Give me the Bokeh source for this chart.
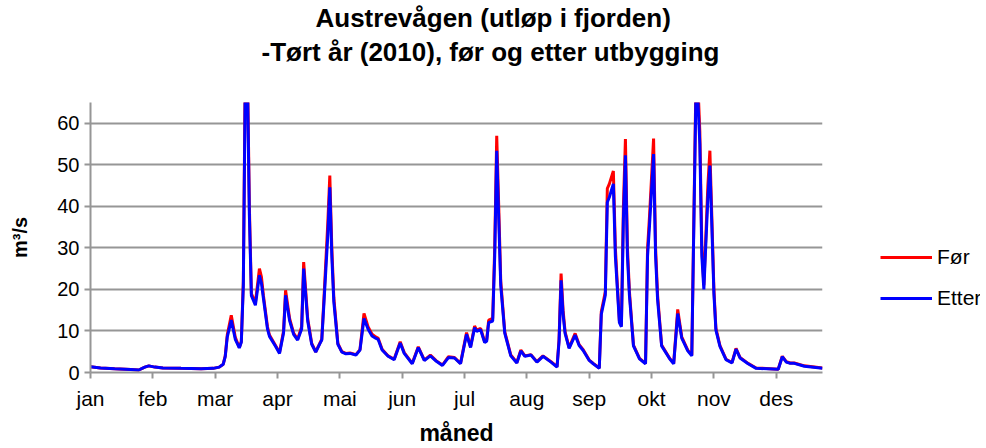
from bokeh.plotting import figure
from bokeh.models import FixedTicker, Title, Legend, LegendItem, Range1d
from bokeh.layouts import row
from bokeh.embed import file_html
from bokeh.resources import INLINE

month_labels = ["jan", "feb", "mar", "apr", "mai", "jun", "jul", "aug", "sep", "okt", "nov", "des"]
month_ticks = [0, 31, 62, 93, 124, 155, 186, 217, 248, 279, 310, 341]

days = [0, 5, 12, 20, 24, 27, 29, 32, 36, 45, 55, 61, 64, 66, 67, 68, 70, 72, 74, 75,
        76, 77, 78, 79, 80, 82, 84, 85, 86, 88, 89, 92, 94, 96, 97, 99, 101, 103, 105, 106,
        108, 110, 112, 114, 115, 116, 118, 119, 120, 121, 123, 125, 127, 129, 132, 134, 136, 138, 140, 142,
        143, 145, 148, 151, 154, 156, 160, 163, 166, 169, 172, 175, 178, 181, 184, 187, 189, 191, 192, 194,
        196, 197, 198, 200, 201, 202, 203, 204, 206, 209, 212, 214, 216, 219, 222, 225, 229, 232, 233, 234,
        235, 236, 238, 241, 243, 245, 248, 250, 253, 254, 256, 257, 258, 260, 261, 262, 263, 264, 265, 266,
        267, 268, 270, 273, 276, 277, 278, 280, 281, 282, 284, 288, 290, 292, 294, 297, 299, 301, 302, 303,
        304, 305, 307, 308, 309, 310, 311, 313, 316, 319, 321, 323, 327, 331, 342, 344, 346, 348, 350, 355,
        364]

for_vals = [1.4, 1.1, 0.9, 0.7, 0.6, 1.3, 1.6, 1.3, 1.1, 1.0, 0.9, 1.0, 1.3, 2.0, 4.0, 9.0, 13.8, 8.5, 6.0, 7.5,
            22, 75, 75, 40, 19, 16.8, 25, 23, 18.5, 11, 9, 6.5, 4.8, 10, 19.8, 13, 9.5, 8.0, 11, 26.6,
            13, 7, 5.0, 7.0, 8.0, 17, 36, 47.4, 30, 18, 7, 5.0, 4.6, 4.7, 4.3, 5.5, 14.2, 11, 9.2, 8.5,
            8.3, 5.6, 4.0, 3.2, 7.4, 4.8, 2.2, 6.2, 3.0, 4.2, 2.8, 1.8, 3.8, 3.6, 2.2, 9.6, 6.2, 11.2, 10.2, 10.6,
            7.4, 7.8, 12.6, 13, 30, 57, 40, 22, 9.8, 4.2, 2.4, 5.4, 4.0, 4.3, 2.6, 4.0, 2.6, 1.4, 8, 23.8,
            15, 9.8, 6.0, 9.4, 6.7, 5.5, 3.0, 2.2, 1.1, 14.6, 19.4, 44.3, 45.4, 48.5, 30, 21, 12.5, 11.4, 40, 56.2,
            30, 19.4, 6.6, 3.4, 2.2, 29.8, 37.8, 56.3, 30, 18.5, 6.6, 3.4, 2.2, 15.2, 8.6, 5.4, 4.2, 68, 70, 58,
            30, 21, 45, 53.4, 37, 20, 10.6, 6.5, 3.2, 2.4, 5.8, 3.6, 2.2, 1.1, 0.8, 3.9, 2.6, 2.3, 2.3, 1.6,
            1.1]

etter_vals = [1.4, 1.1, 0.9, 0.7, 0.6, 1.3, 1.6, 1.3, 1.1, 1.0, 0.9, 1.0, 1.3, 2.0, 3.8, 8.5, 12.6, 8.0, 5.9, 7.3,
              21, 72, 72, 38, 18.5, 16.2, 23.4, 21.5, 17.8, 10.5, 8.7, 6.3, 4.6, 9.5, 18.6, 12.5, 9.2, 7.8, 10.5, 25,
              12.4, 6.8, 4.9, 6.9, 7.8, 16, 33, 44.6, 28, 17, 6.8, 4.9, 4.5, 4.6, 4.2, 5.4, 13, 10.5, 8.8, 8.2,
              8.0, 5.4, 3.9, 3.1, 7.1, 4.6, 2.1, 6.0, 2.9, 4.0, 2.7, 1.7, 3.6, 3.5, 2.1, 9.2, 6.0, 10.8, 9.9, 10.3,
              7.2, 7.5, 12.0, 12.4, 28, 53.4, 37, 21, 9.5, 4.0, 2.3, 5.2, 3.9, 4.2, 2.5, 3.9, 2.5, 1.3, 7.5, 22.2,
              14, 9.4, 5.8, 9.0, 6.5, 5.3, 2.9, 2.1, 1.0, 14, 18.6, 41, 42.2, 45.4, 28, 20, 12, 11, 37, 52.3,
              28, 18.5, 6.4, 3.3, 2.1, 28, 35.5, 52.6, 28, 17.5, 6.4, 3.3, 2.1, 14.2, 8.3, 5.2, 4.0, 65.5, 66, 55,
              28, 20, 42, 49.8, 35, 19, 10.2, 6.3, 3.1, 2.3, 5.6, 3.5, 2.1, 1.0, 0.8, 3.8, 2.5, 2.2, 2.2, 1.5,
              1.0]

y_ticks = [0, 10, 20, 30, 40, 50, 60]
series_names = ["Før", "Etter"]
series_colors = ["#FF0000", "#0000FF"]

FONT = "Liberation Sans"
GRID = "#969696"

p = figure(width=830, height=448, output_backend="svg", toolbar_location=None,
           x_range=Range1d(0, 364), y_range=Range1d(0, 65),
           min_border_left=90, min_border_right=8, min_border_top=101, min_border_bottom=76)
p.outline_line_color = None
p.background_fill_color = "white"
p.border_fill_color = "white"

p.line(days, for_vals, line_color=series_colors[0], line_width=3)
p.line(days, etter_vals, line_color=series_colors[1], line_width=3)

# axes
p.xaxis.ticker = FixedTicker(ticks=month_ticks)
p.xaxis.major_label_overrides = {t: l for t, l in zip(month_ticks, month_labels)}
p.xaxis.minor_tick_line_color = None
p.xaxis.major_tick_in = 0
p.xaxis.major_tick_out = 6
p.xaxis.axis_line_color = GRID
p.xaxis.axis_line_width = 2
p.xaxis.major_tick_line_color = GRID
p.xaxis.major_tick_line_width = 2
p.xaxis.major_label_text_font = FONT
p.xaxis.major_label_text_font_size = "21px"
p.xaxis.major_label_text_color = "black"
p.xaxis.major_label_standoff = 8
p.xaxis.axis_label = "måned"
p.xaxis.axis_label_text_font = FONT
p.xaxis.axis_label_text_font_size = "23px"
p.xaxis.axis_label_text_font_style = "bold"
p.xaxis.axis_label_text_color = "black"
p.xaxis.axis_label_standoff = 7

p.yaxis.ticker = FixedTicker(ticks=y_ticks)
p.yaxis.minor_tick_line_color = None
p.yaxis.major_tick_in = 0
p.yaxis.major_tick_out = 6
p.yaxis.axis_line_color = GRID
p.yaxis.axis_line_width = 2
p.yaxis.major_tick_line_color = GRID
p.yaxis.major_tick_line_width = 2
p.yaxis.major_label_text_font = FONT
p.yaxis.major_label_text_font_size = "20px"
p.yaxis.major_label_text_color = "black"
p.yaxis.major_label_standoff = 5
p.yaxis.axis_label = "m³/s"
p.yaxis.axis_label_text_font = FONT
p.yaxis.axis_label_text_font_size = "20px"
p.yaxis.axis_label_text_font_style = "bold"
p.yaxis.axis_label_text_color = "black"
p.yaxis.axis_label_standoff = 23

p.xgrid.grid_line_color = None
p.ygrid.ticker = FixedTicker(ticks=[10, 20, 30, 40, 50, 60])
p.ygrid.grid_line_color = GRID
p.ygrid.grid_line_width = 2

# titles: spacer nearest the frame, then line 2, then line 1
spacer = Title(text=" ", text_font_size="13px", standoff=17, vertical_align="middle")
t2 = Title(text="-Tørt år (2010), før og etter utbygging", align="left", offset=171,
           vertical_align="middle", text_color="black",
           text_font=FONT, text_font_size="26px", text_font_style="bold", standoff=2)
t1 = Title(text="Austrevågen (utløp i fjorden)", align="left", offset=225,
           vertical_align="middle", text_color="black",
           text_font=FONT, text_font_size="26px", text_font_style="bold", standoff=2)
p.add_layout(spacer, "above")
p.add_layout(t2, "above")
p.add_layout(t1, "above")

# legend panel
q = figure(width=150, height=448, output_backend="svg", toolbar_location=None,
           x_range=Range1d(0, 1), y_range=Range1d(0, 1),
           min_border_left=0, min_border_right=0, min_border_top=0, min_border_bottom=0,
           x_axis_type=None, y_axis_type=None)
q.outline_line_color = None
q.xgrid.visible = False
q.ygrid.visible = False
nan = float("nan")
q_r = [q.line([nan], [nan], line_color=c, line_width=3) for c in series_colors]

legend = Legend(items=[LegendItem(label=n, renderers=[r]) for n, r in zip(series_names, q_r)],
                location=(50, 62), border_line_color=None, background_fill_alpha=0,
                padding=0, margin=0, spacing=17, glyph_width=52, glyph_height=20,
                label_height=20, label_standoff=5, label_text_color="black",
                label_text_font=FONT, label_text_font_size="21px")
q.add_layout(legend, "center")

layout = row(p, q)
open("out.html", "w").write(file_html(layout, INLINE))
